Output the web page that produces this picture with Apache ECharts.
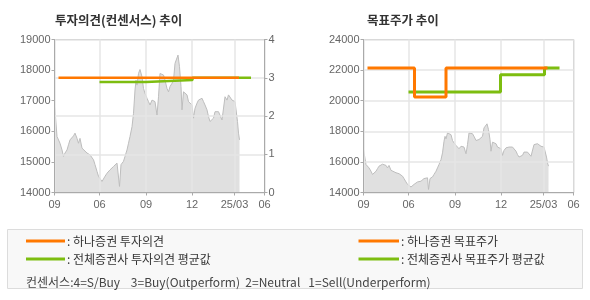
<!DOCTYPE html>
<html><head><meta charset="utf-8">
<script src="https://cdn.jsdelivr.net/npm/echarts@6/dist/echarts.min.js"></script>
<style>html,body{margin:0;padding:0;background:#fff}#c{width:590px;height:300px}</style>
</head><body><div id="c"></div>
<script>
// x axis: days since the left edge of the axis
const tickDays = [0, 90, 183, 275, 360, 420];
const tickLabels = ['09', '06', '09', '12', '25/03', '06'];

const priceDays = [0,1,5,8,11,15,18,21,25,28,31,35,38,41,45,48,51,55,58,65,71,78,81,85,88,91,95,98,101,105,108,111,115,118,121,125,128,130,133,135,138,141,145,148,151,155,158,161,163,165,168,171,175,178,181,185,188,191,195,198,201,205,208,211,215,218,221,225,228,231,235,238,241,245,247,250,253,255,258,261,265,268,271,275,278,281,285,288,291,295,298,301,305,308,311,315,318,321,325,328,331,335,338,341,345,348,351,355,358,361,363,366,368,370];
const prices = [16810,16700,15830,15880,15610,15390,15180,15290,15390,15560,15720,15720,15850,15940,15770,15610,15770,15450,15390,15290,15230,15070,14910,14690,14530,14470,14360,14420,14530,14630,14690,14740,14740,14850,14910,14960,14960,14200,14910,14960,15020,15180,15390,15610,15830,16150,16590,17350,17670,17510,17890,18020,17780,17400,17240,17080,16970,16860,17020,17080,16970,16530,17130,17890,17950,17840,17670,17400,17290,17460,17570,17670,18220,18270,18490,18110,17460,16700,17290,17350,17190,16970,17020,16860,16430,16750,16920,17020,16970,17080,16970,16860,16700,16480,16320,16260,16430,16640,16700,16640,16590,16370,16430,17130,17020,17190,17130,17020,17080,16970,17020,16320,15940,15720];

// opinion (consensus scale 0-4), step points [day, value]
const hanaOpinionDays = [8, 369];
const hanaOpinion = [3, 3];
const avgOpinionDays = [90, 183, 276, 393];
const avgOpinion = [2.89, 2.94, 3, 3];

// target price step points
const hanaTargetDays = [8, 102, 165, 368];
const hanaTarget = [22130, 20250, 22130, 22130];
const avgTargetDays = [90, 274, 362, 392];
const avgTarget = [20570, 21700, 22130, 22130];

const leftPriceTicks = {min: 14000, max: 19000, interval: 1000};
const opinionTicks = {min: 0, max: 4, interval: 1};
const targetTicks = {min: 14000, max: 24000, interval: 2000};

const pairs = (xs, ys) => xs.map((x, i) => [x, ys[i]]);

const ORANGE = '#ff7800';
const GREEN = '#7dbd10';
const labelStyle = {color: '#666', fontSize: 11, fontFamily: 'Liberation Sans'};
const axisLineStyle = {color: '#aaaaaa', width: 1};
const splitStyle = {color: '#e6e6e6', width: 1.5};

function xAxis(gi) {
  return {
    type: 'value', gridIndex: gi, min: 0, max: 420, z: 2,
    axisLine: {show: true, lineStyle: axisLineStyle},
    axisTick: {show: true, length: 3, lineStyle: axisLineStyle, customValues: tickDays},
    axisLabel: Object.assign({}, labelStyle, {margin: 7, customValues: tickDays,
      formatter: v => { const i = tickDays.indexOf(v); return i >= 0 ? tickLabels[i] : ''; }}),
    splitLine: {show: true, lineStyle: splitStyle}
  };
}
function yAxis(gi, ticks, pos, split) {
  return Object.assign({
    type: 'value', gridIndex: gi, position: pos, z: 2,
    axisLine: {show: true, lineStyle: axisLineStyle},
    axisTick: {show: true, length: 3, lineStyle: axisLineStyle},
    axisLabel: Object.assign({}, labelStyle, {margin: 4, formatter: v => String(v)}),
    splitLine: {show: split, lineStyle: splitStyle}
  }, ticks);
}
function priceSeries(xi, yi) {
  return {
    type: 'line', xAxisIndex: xi, yAxisIndex: yi, z: 1, silent: true,
    data: pairs(priceDays, prices), symbol: 'none',
    lineStyle: {color: '#bdbdbd', width: 1},
    areaStyle: {color: '#e0e0e0', opacity: 1, origin: 'start'}
  };
}
function stepSeries(xi, yi, xs, ys, color, width, z) {
  return {
    type: 'line', xAxisIndex: xi, yAxisIndex: yi, z: z, silent: true,
    step: 'end', data: pairs(xs, ys), symbol: 'none',
    lineStyle: {color: color, width: width}
  };
}

const font = '"Noto Sans CJK KR", sans-serif';
const legendText = (x, y, text, size, color) => ({
  type: 'text', x: x, y: y, silent: true,
  style: {text: text, fill: color || '#333', font: (size || 12) + 'px ' + font, verticalAlign: 'middle'}
});
const legendLine = (x1, x2, y, color) => ({
  type: 'line', silent: true, shape: {x1: x1, y1: y, x2: x2, y2: y},
  style: {stroke: color, lineWidth: 3}
});

const chart = echarts.init(document.getElementById('c'));
chart.setOption({
  animation: false,
  grid: [
    {left: 54.5, top: 39.5, width: 210, height: 153, show: true, borderColor: '#b4b4b4', borderWidth: 1, containLabel: false},
    {left: 363.5, top: 39.5, width: 210, height: 153, show: true, borderColor: '#b4b4b4', borderWidth: 1, containLabel: false}
  ],
  xAxis: [xAxis(0), xAxis(1)],
  yAxis: [
    yAxis(0, leftPriceTicks, 'left', false),
    yAxis(0, opinionTicks, 'right', true),
    yAxis(1, targetTicks, 'left', true)
  ],
  series: [
    priceSeries(0, 0),
    stepSeries(0, 1, avgOpinionDays, avgOpinion, GREEN, 2.5, 5),
    stepSeries(0, 1, hanaOpinionDays, hanaOpinion, ORANGE, 2.5, 6),
    priceSeries(1, 2),
    stepSeries(1, 2, avgTargetDays, avgTarget, GREEN, 3, 5),
    stepSeries(1, 2, hanaTargetDays, hanaTarget, ORANGE, 3, 6)
  ],
  graphic: [
    {type: 'text', x: 55, y: 20.5, silent: true, style: {text: '투자의견(컨센서스) 추이', fill: '#333', font: 'bold 12.5px ' + font, verticalAlign: 'middle'}},
    {type: 'text', x: 367, y: 20.5, silent: true, style: {text: '목표주가 추이', fill: '#333', font: 'bold 12.5px ' + font, verticalAlign: 'middle'}},
    {type: 'rect', silent: true, shape: {x: 7.5, y: 229.5, width: 575, height: 59}, style: {fill: '#f8f8f8', stroke: '#dcdcdc', lineWidth: 1}},
    legendLine(26, 65, 241, ORANGE),
    legendText(67, 241, ': 하나증권 투자의견'),
    legendLine(26, 65, 259, GREEN),
    legendText(67, 259, ': 전체증권사 투자의견 평균값'),
    legendLine(358.5, 399, 241, ORANGE),
    legendText(401, 241, ': 하나증권 목표주가'),
    legendLine(358.5, 399, 259, GREEN),
    legendText(401, 259, ': 전체증권사 목표주가 평균값'),
    legendText(26, 282.5, '컨센서스:4=S/Buy    3=Buy(Outperform)  2=Neutral   1=Sell(Underperform)', 12, '#444')
  ]
});
</script>
</body></html>
